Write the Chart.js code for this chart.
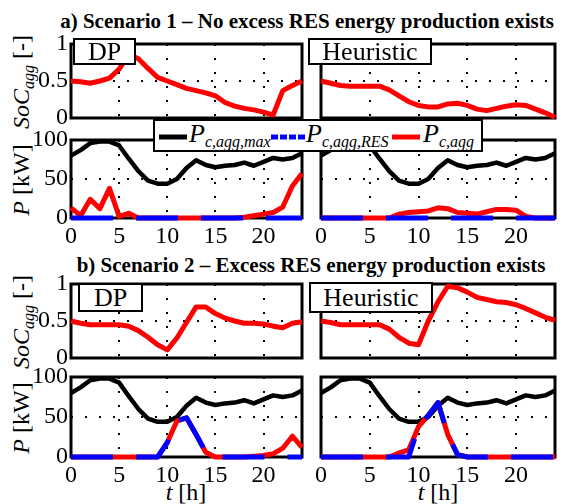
<!DOCTYPE html>
<html>
<head>
<meta charset="utf-8">
<script src="https://cdn.jsdelivr.net/npm/chart.js@4.4.1/dist/chart.umd.min.js"></script>
<style>
body { margin: 0; background: #fff; width: 563px; height: 504px; position: relative; overflow: hidden; color: #000; font-family: 'Liberation Serif'; }
div, span, i, sub { font-family: 'Liberation Serif'; }
canvas { position: absolute; }
.title { position: absolute; font-weight: bold; font-size: 21px; line-height: 21px; white-space: nowrap; transform: translateX(-50%); }
.tag { position: absolute; border: 2px solid #000; background: #fff; font-size: 26px; text-align: center; box-sizing: border-box; z-index: 5; }
.ylab { position: absolute; font-size: 24px; line-height: 24px; white-space: nowrap; transform: translate(-50%, -50%) rotate(-90deg); }
.xlab { position: absolute; font-size: 24px; line-height: 24px; white-space: nowrap; transform: translateX(-50%); }
sub { font-size: 16px; line-height: 0; vertical-align: -5px; font-style: italic; }
#legend { position: absolute; left: 153px; top: 119px; width: 330px; height: 33px; border: 2px solid #000; background: #fff; box-sizing: border-box; z-index: 6; }
#legend svg { position: absolute; top: 11px; }
#legend span { position: absolute; top: -2px; font-size: 26px; line-height: 30px; white-space: nowrap; }
</style>
</head>
<body>
<div class="title" style="left:307px; top:11px;">a) Scenario 1 – No excess RES energy production exists</div>
<div class="title" style="left:311px; top:255px;">b) Scenario 2 – Excess RES energy production exists</div>

<div class="ylab" style="left:21px; top:82px;"><i>SoC</i><sub>agg</sub> [-]</div>
<div class="ylab" style="left:21px; top:180px;"><i>P</i> [kW]</div>
<div class="ylab" style="left:21px; top:322px;"><i>SoC</i><sub>agg</sub> [-]</div>
<div class="ylab" style="left:21px; top:418px;"><i>P</i> [kW]</div>
<div class="xlab" style="left:186px; top:480px;"><i>t</i> [h]</div>
<div class="xlab" style="left:438px; top:480px;"><i>t</i> [h]</div>

<div class="tag" style="left:73px; top:38px; width:63px; height:27px; line-height:23px;">DP</div>
<div class="tag" style="left:308px; top:38px; width:124px; height:27px; line-height:23px;">Heuristic</div>
<div class="tag" style="left:78px; top:283px; width:65px; height:29px; line-height:25px;">DP</div>
<div class="tag" style="left:309px; top:282px; width:124px; height:31px; line-height:27px;">Heuristic</div>

<div id="legend">
  <svg style="left:4px" width="28" height="10"><line x1="0" y1="5" x2="28" y2="5" stroke="#000" stroke-width="5"/></svg>
  <span style="left:34px"><i>P</i><sub>c,agg,max</sub></span>
  <svg style="left:116px" width="34" height="10"><line x1="0" y1="5" x2="34" y2="5" stroke="#0000ff" stroke-width="5" stroke-dasharray="7,2"/></svg>
  <span style="left:151px"><i>P</i><sub>c,agg,RES</sub></span>
  <svg style="left:237px" width="28" height="10"><line x1="0" y1="5" x2="28" y2="5" stroke="#ff0000" stroke-width="5"/></svg>
  <span style="left:268px"><i>P</i><sub>c,agg</sub></span>
</div>

<script>
// hourly time axis and tick values
const hours = [0, 1, 2, 3, 4, 5, 6, 7, 8, 9, 10, 11, 12, 13, 14, 15, 16, 17, 18, 19, 20, 21, 22, 23, 24];
const xTicks = [0, 5, 10, 15, 20];
const socTicks = [0, 0.5, 1];
const socTickLabels = ['0', '0.5', '1'];
const powerTicks = [0, 50, 100];
const powerTickLabels = ['0', '50', '100'];

// maximum aggregated charging power (same in all panels)
const pMax = [80, 87, 96, 98, 98, 93, 76, 60, 48, 44, 44, 50, 64, 74, 68, 65, 67, 68, 71, 67, 72, 77, 75, 77, 83];

// Scenario 1 - no excess RES
const socA_DP = [0.50, 0.49, 0.47, 0.50, 0.54, 0.66, 0.86, 0.80, 0.67, 0.55, 0.50, 0.45, 0.40, 0.37, 0.34, 0.30, 0.21, 0.16, 0.13, 0.11, 0.08, 0.04, 0.37, 0.44, 0.50];
const socA_Heur = [0.50, 0.47, 0.44, 0.43, 0.43, 0.43, 0.43, 0.38, 0.30, 0.22, 0.17, 0.15, 0.15, 0.19, 0.20, 0.17, 0.12, 0.10, 0.13, 0.16, 0.18, 0.17, 0.12, 0.07, 0.01];
const pA_DP = [13, 3, 24, 12, 38, 2, 6, 0, 0, 0, 0, 0, 0, 0, 0, 0, 0, 0, 1, 3, 5, 7, 14, 41, 57];
const resA_DP = [0, 0, 0, 0, 0, 0, 0, 0, 0, 0, 0, 0, 0, 0, 0, 0, 0, 0, 0, 0, 0, 0, 0, 0, 0];
const pA_Heur = [0, 0, 0, 0, 0, 0, 0, 0, 5, 7, 8, 9, 13, 12, 7, 6, 5, 8, 11, 11, 10, 2, 0, 0, 0];
const resA_Heur = [0, 0, 0, 0, 0, 0, 0, 0, 0, 0, 0, 0, 0, 0, 0, 0, 0, 0, 0, 0, 0, 0, 0, 0, 0];

// Scenario 2 - excess RES
const socB_DP = [0.50, 0.47, 0.45, 0.45, 0.45, 0.45, 0.43, 0.37, 0.28, 0.18, 0.11, 0.27, 0.48, 0.69, 0.69, 0.60, 0.54, 0.50, 0.47, 0.47, 0.46, 0.43, 0.41, 0.47, 0.49];
const socB_Heur = [0.50, 0.48, 0.45, 0.45, 0.45, 0.45, 0.45, 0.39, 0.28, 0.20, 0.18, 0.50, 0.76, 0.97, 0.95, 0.89, 0.82, 0.79, 0.76, 0.75, 0.72, 0.67, 0.61, 0.55, 0.51];
const pB_DP = [0, 0, 0, 0, 0, 0, 0, 0, 0, 0, 18, 45, 49, 28, 6, 0, 0, 0, 0, 1, 2, 4, 11, 26, 12];
const resB_DP = [0, 0, 0, 0, 0, 0, 0, 0, 0, 0, 18, 45, 49, 28, 6, 0, 0, 0, 0, 0, 0, 0, 0, 0, 0];
const pB_Heur = [0, 0, 0, 0, 0, 0, 0, 0, 5, 9, 38, 52, 68, 28, 3, 0, 0, 0, 0, 0, 0, 0, 0, 0, 0];
const resB_Heur = [0, 0, 0, 0, 0, 0, 0, 0, 0, 0, 38, 52, 68, 28, 3, 0, 0, 0, 0, 0, 0, 0, 0, 0, 0];

const serif = "'Liberation Serif'";
Chart.defaults.font.family = serif;

// frame around the plot area, drawn under the lines
const boxPlugin = {
    id: 'box',
    beforeDatasetsDraw(chart) {
        const a = chart.chartArea, ctx = chart.ctx;
        ctx.save();
        ctx.lineWidth = 3;
        ctx.strokeStyle = '#000';
        ctx.strokeRect(a.left, a.top, a.right - a.left, a.bottom - a.top);
        ctx.restore();
    }
};

const pts = ys => hours.map((h, i) => ({ x: h, y: ys[i] }));
const redLine = ys => ({ data: pts(ys), borderColor: '#ff0000', borderWidth: 5 });
const blackLine = ys => ({ data: pts(ys), borderColor: '#000000', borderWidth: 4.5 });
const blueLine = ys => ({ data: pts(ys), borderColor: '#0000ff', borderWidth: 5, borderDash: [42, 23], borderCapStyle: 'butt' });

function panel(rect, yMax, yTicks, yLabels, showY, showX, datasets) {
    const padL = showY ? 4 : 14, yw = showY ? 62 : 0;
    const padT = 22, padR = 8, padB = 22, xh = showX ? 34 : 0;
    const w = rect.r - rect.l, h = rect.b - rect.t;
    const cv = document.createElement('canvas');
    cv.width = padL + yw + w + padR;
    cv.height = padT + h + xh + padB;
    cv.style.left = (rect.l - padL - yw) + 'px';
    cv.style.top = (rect.t - padT) + 'px';
    document.body.appendChild(cv);

    new Chart(cv.getContext('2d'), {
        type: 'line',
        data: { datasets: datasets.map(d => Object.assign({ clip: 8, pointRadius: 0, tension: 0, borderJoinStyle: 'round' }, d)) },
        options: {
            responsive: false,
            animation: false,
            events: [],
            layout: { padding: { left: padL, right: padR, top: padT, bottom: padB } },
            plugins: { legend: { display: false }, tooltip: { enabled: false } },
            scales: {
                x: {
                    type: 'linear', min: 0, max: 24,
                    afterBuildTicks: s => { s.ticks = xTicks.map(v => ({ value: v })); },
                    afterFit: s => { s.height = xh; },
                    grid: { color: '#000', lineWidth: 2, drawTicks: false },
                    border: { display: false, dash: [2, 12] },
                    ticks: { display: showX, padding: 4, color: '#000', maxRotation: 0, autoSkip: false,
                             font: { family: serif, size: 24 } }
                },
                y: {
                    min: 0, max: yMax,
                    afterBuildTicks: s => { s.ticks = yTicks.map(v => ({ value: v })); },
                    afterFit: s => { s.width = yw; },
                    grid: { color: '#000', lineWidth: 2, drawTicks: false },
                    border: { display: false, dash: [2, 12] },
                    ticks: { display: showY, padding: 3, color: '#000', autoSkip: false,
                             callback: (v, i) => yLabels[i],
                             font: { family: serif, size: 24 } }
                }
            }
        },
        plugins: [boxPlugin]
    });
}

const L = { l: 71, r: 302 }, R = { l: 321, r: 555 };
const rows = {
    socA: { t: 44, b: 118 }, pA: { t: 140, b: 218 },
    socB: { t: 284, b: 358 }, pB: { t: 377, b: 457 }
};
const rect = (col, row) => ({ l: col.l, r: col.r, t: row.t, b: row.b });

panel(rect(L, rows.socA), 1, socTicks, socTickLabels, true, false, [redLine(socA_DP)]);
panel(rect(R, rows.socA), 1, socTicks, socTickLabels, false, false, [redLine(socA_Heur)]);
panel(rect(L, rows.pA), 100, powerTicks, powerTickLabels, true, true, [blueLine(resA_DP), redLine(pA_DP), blackLine(pMax)]);
panel(rect(R, rows.pA), 100, powerTicks, powerTickLabels, false, true, [blueLine(resA_Heur), redLine(pA_Heur), blackLine(pMax)]);
panel(rect(L, rows.socB), 1, socTicks, socTickLabels, true, false, [redLine(socB_DP)]);
panel(rect(R, rows.socB), 1, socTicks, socTickLabels, false, false, [redLine(socB_Heur)]);
panel(rect(L, rows.pB), 100, powerTicks, powerTickLabels, true, true, [blueLine(resB_DP), redLine(pB_DP), blackLine(pMax)]);
panel(rect(R, rows.pB), 100, powerTicks, powerTickLabels, false, true, [blueLine(resB_Heur), redLine(pB_Heur), blackLine(pMax)]);
</script>
</body>
</html>
